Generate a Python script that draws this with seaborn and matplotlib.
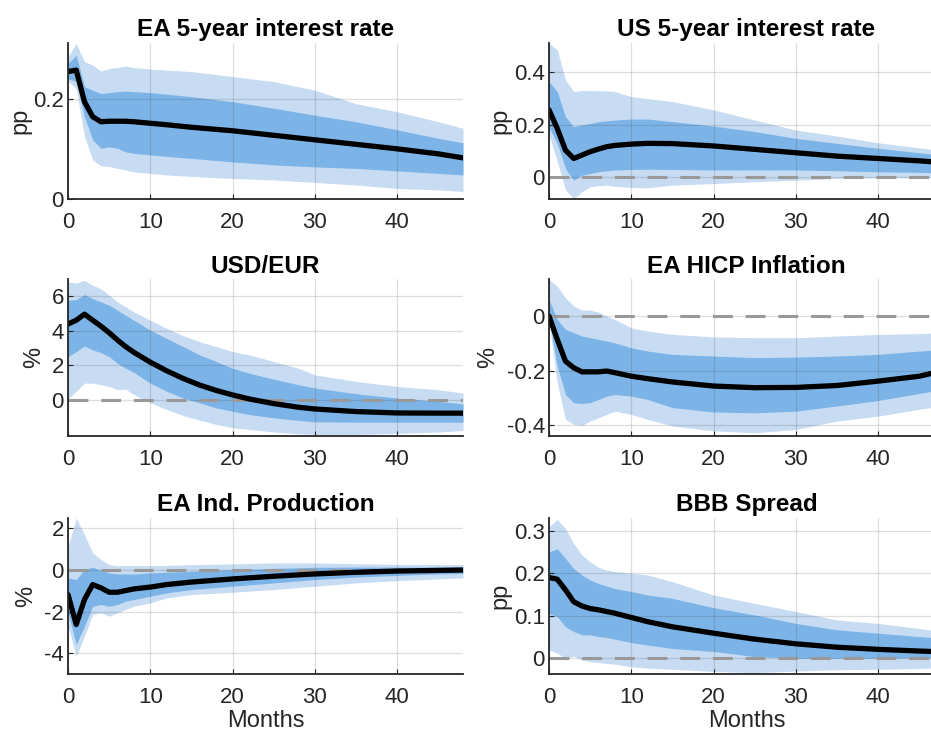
import numpy as np
import pandas as pd
import matplotlib
matplotlib.use("Agg")
import matplotlib.pyplot as plt
import seaborn as sns

# Horizon grids (months after the shock)
months_a = [0, 1, 2, 3, 4, 5, 6, 7, 8, 10, 12, 15, 20, 25, 30, 35, 40, 45, 48]
months_b = [0, 1, 2, 3, 4, 5, 6, 7, 8, 10, 12, 14, 16, 18, 20, 22, 25, 28, 30, 35, 40, 45, 48]

# EA 5-year interest rate (pp)
ea5_med = [0.254, 0.257, 0.194, 0.164, 0.154, 0.155, 0.155, 0.155, 0.154, 0.151, 0.148, 0.143,
           0.136, 0.127, 0.118, 0.109, 0.100, 0.090, 0.082]
ea5_lo68 = [0.240, 0.234, 0.164, 0.118, 0.101, 0.104, 0.101, 0.094, 0.091, 0.088, 0.085, 0.081,
            0.074, 0.068, 0.064, 0.061, 0.056, 0.051, 0.048]
ea5_hi68 = [0.270, 0.287, 0.224, 0.217, 0.210, 0.212, 0.214, 0.215, 0.214, 0.212, 0.209, 0.204,
            0.194, 0.181, 0.167, 0.154, 0.138, 0.121, 0.112]
ea5_lo90 = [0.235, 0.220, 0.125, 0.078, 0.066, 0.065, 0.061, 0.058, 0.054, 0.051, 0.048, 0.045,
            0.041, 0.038, 0.033, 0.028, 0.021, 0.018, 0.015]
ea5_hi90 = [0.284, 0.310, 0.274, 0.267, 0.255, 0.260, 0.262, 0.265, 0.262, 0.259, 0.257, 0.254,
            0.244, 0.234, 0.217, 0.190, 0.174, 0.154, 0.141]

# US 5-year interest rate (pp)
us5_med = [0.256, 0.185, 0.102, 0.070, 0.083, 0.096, 0.106, 0.115, 0.120, 0.125, 0.128, 0.127,
           0.118, 0.105, 0.092, 0.079, 0.070, 0.061, 0.054]
us5_lo68 = [0.190, 0.128, 0.032, -0.013, 0.006, 0.013, 0.019, 0.023, 0.026, 0.028, 0.029, 0.028,
            0.026, 0.026, 0.026, 0.023, 0.019, 0.017, 0.015]
us5_hi68 = [0.364, 0.326, 0.230, 0.192, 0.198, 0.204, 0.211, 0.214, 0.217, 0.221, 0.221, 0.211,
            0.194, 0.173, 0.147, 0.128, 0.109, 0.092, 0.083]
us5_lo90 = [0.160, 0.060, -0.050, -0.083, -0.058, -0.038, -0.034, -0.032, -0.036, -0.041, -0.042,
            -0.032, -0.026, -0.019, -0.013, -0.006, -0.004, -0.003, -0.002]
us5_hi90 = [0.511, 0.486, 0.371, 0.326, 0.330, 0.330, 0.329, 0.329, 0.326, 0.307, 0.299, 0.288,
            0.256, 0.217, 0.179, 0.156, 0.130, 0.111, 0.100]

# USD/EUR (%)
fx_med = [4.38, 4.60, 4.95, 4.60, 4.26, 3.88, 3.46, 3.08, 2.75, 2.18, 1.68, 1.24, 0.86, 0.55,
          0.29, 0.06, -0.21, -0.42, -0.52, -0.67, -0.75, -0.76, -0.76]
fx_lo68 = [2.50, 2.79, 3.11, 2.89, 2.73, 2.50, 2.12, 1.83, 1.59, 0.97, 0.50, 0.11, -0.17, -0.46,
           -0.65, -0.84, -1.03, -1.18, -1.26, -1.28, -1.28, -1.28, -1.28]
fx_hi68 = [5.75, 5.79, 6.08, 5.85, 5.66, 5.47, 5.18, 4.89, 4.60, 4.03, 3.55, 3.08, 2.60, 2.22,
           1.83, 1.55, 1.20, 0.88, 0.69, 0.36, 0.11, -0.08, -0.23]
fx_lo90 = [0.06, 0.50, 0.97, 0.97, 0.88, 0.78, 0.59, 0.62, 0.31, -0.17, -0.55, -0.90, -1.17,
           -1.41, -1.60, -1.70, -1.85, -1.95, -1.99, -1.99, -1.93, -1.85, -1.76]
fx_hi90 = [6.80, 6.75, 6.90, 6.61, 6.42, 6.04, 5.66, 5.37, 5.08, 4.60, 4.13, 3.71, 3.36, 3.08,
           2.79, 2.60, 2.22, 1.83, 1.45, 1.07, 0.78, 0.59, 0.40]

# EA HICP inflation (%)
hicp_med = [0.000, -0.085, -0.165, -0.189, -0.204, -0.204, -0.204, -0.201, -0.207, -0.220, -0.229,
            -0.241, -0.256, -0.262, -0.261, -0.254, -0.238, -0.220, -0.199]
hicp_lo68 = [-0.012, -0.183, -0.287, -0.317, -0.320, -0.317, -0.305, -0.293, -0.287, -0.293,
             -0.305, -0.335, -0.351, -0.354, -0.348, -0.329, -0.309, -0.283, -0.268]
hicp_hi68 = [0.061, -0.012, -0.049, -0.061, -0.073, -0.079, -0.085, -0.091, -0.098, -0.116,
             -0.128, -0.140, -0.146, -0.152, -0.150, -0.146, -0.140, -0.128, -0.122]
hicp_lo90 = [-0.020, -0.244, -0.378, -0.396, -0.400, -0.384, -0.372, -0.360, -0.348, -0.360,
             -0.378, -0.402, -0.420, -0.427, -0.415, -0.384, -0.366, -0.341, -0.329]
hicp_hi90 = [0.134, 0.110, 0.067, 0.037, 0.022, 0.022, 0.015, 0.000, -0.012, -0.043, -0.055,
             -0.067, -0.076, -0.079, -0.079, -0.073, -0.067, -0.064, -0.061]

# EA industrial production (%)
ip_med = [-1.18, -2.62, -1.42, -0.70, -0.86, -1.07, -1.07, -0.99, -0.91, -0.82, -0.70, -0.58,
          -0.43, -0.30, -0.19, -0.11, -0.05, -0.02, 0.00]
ip_lo68 = [-2.06, -3.58, -2.70, -1.74, -1.66, -1.74, -1.66, -1.50, -1.42, -1.26, -1.10, -0.94,
           -0.78, -0.62, -0.46, -0.34, -0.26, -0.19, -0.16]
ip_hi68 = [-0.38, -0.46, 0.02, 0.14, -0.02, -0.14, -0.19, -0.19, -0.19, -0.14, -0.11, -0.06,
           0.02, 0.08, 0.13, 0.14, 0.14, 0.14, 0.14]
ip_lo90 = [-2.70, -4.14, -3.18, -2.14, -2.06, -2.22, -2.06, -1.90, -1.74, -1.58, -1.34, -1.18,
           -1.07, -0.94, -0.78, -0.62, -0.51, -0.43, -0.38]
ip_hi90 = [1.14, 2.50, 1.70, 0.82, 0.50, 0.26, 0.21, 0.21, 0.21, 0.21, 0.22, 0.26, 0.29, 0.34,
           0.34, 0.30, 0.27, 0.26, 0.26]

# BBB spread (pp)
bbb_med = [0.190, 0.186, 0.161, 0.133, 0.123, 0.117, 0.114, 0.110, 0.106, 0.096, 0.086, 0.074,
           0.059, 0.045, 0.034, 0.026, 0.021, 0.017, 0.015]
bbb_lo68 = [0.106, 0.098, 0.074, 0.063, 0.055, 0.055, 0.051, 0.049, 0.045, 0.037, 0.031, 0.023,
            0.016, 0.004, 0.000, 0.000, 0.000, 0.001, 0.002]
bbb_hi68 = [0.250, 0.258, 0.235, 0.211, 0.196, 0.184, 0.176, 0.170, 0.164, 0.157, 0.149, 0.141,
            0.119, 0.102, 0.082, 0.067, 0.059, 0.051, 0.047]
bbb_lo90 = [0.020, 0.012, 0.000, 0.005, -0.004, -0.008, -0.010, -0.012, -0.014, -0.020, -0.023,
            -0.026, -0.031, -0.034, -0.030, -0.027, -0.026, -0.024, -0.022]
bbb_hi90 = [0.309, 0.327, 0.305, 0.270, 0.243, 0.227, 0.214, 0.208, 0.204, 0.200, 0.196, 0.180,
            0.149, 0.129, 0.110, 0.090, 0.082, 0.070, 0.063]

titles = ["EA 5-year interest rate", "US 5-year interest rate", "USD/EUR",
          "EA HICP Inflation", "EA Ind. Production", "BBB Spread"]
units = ["pp", "pp", "%", "%", "%", "pp"]
xticks = [0, 10, 20, 30, 40]

panels = [
    (months_a, ea5_med, ea5_lo68, ea5_hi68, ea5_lo90, ea5_hi90),
    (months_a, us5_med, us5_lo68, us5_hi68, us5_lo90, us5_hi90),
    (months_b, fx_med, fx_lo68, fx_hi68, fx_lo90, fx_hi90),
    (months_a, hicp_med, hicp_lo68, hicp_hi68, hicp_lo90, hicp_hi90),
    (months_a, ip_med, ip_lo68, ip_hi68, ip_lo90, ip_hi90),
    (months_a, bbb_med, bbb_lo68, bbb_hi68, bbb_lo90, bbb_hi90),
]
ylims = [(0, 0.311), (-0.085, 0.512), (-2.05, 6.95), (-0.437, 0.134), (-5.0, 2.5), (-0.037, 0.33)]
yticks = [[0, 0.2], [0, 0.2, 0.4], [0, 2, 4, 6], [-0.4, -0.2, 0], [-4, -2, 0, 2], [0, 0.1, 0.2, 0.3]]
ytick_labels = [["0", "0.2"], ["0", "0.2", "0.4"], ["0", "2", "4", "6"],
                ["-0.4", "-0.2", "0"], ["-4", "-2", "0", "2"], ["0", "0.1", "0.2", "0.3"]]
show_zero = [False, True, True, True, True, True]
ylabel_x = [-0.120, -0.124, -0.086, -0.154, -0.106, -0.124]

sns.set_theme(style="ticks")
plt.rcParams["font.family"] = ["Liberation Sans", "DejaVu Sans"]

W, H = 931, 734
fig = plt.figure(figsize=(W / 100, H / 100), dpi=100)

col_x = [68, 549]
row_top = [43, 279.5, 518]
ax_w, ax_h = 395, 156

light = "#c7dcf2"
dark = "#7db4e7"
axis_col = "#262626"

for i, (months, med, lo68, hi68, lo90, hi90) in enumerate(panels):
    r, c = divmod(i, 2)
    x0 = col_x[c]
    y0 = row_top[r] + ax_h
    ax = fig.add_axes([x0 / W, 1 - y0 / H, ax_w / W, ax_h / H])

    ax.fill_between(months, lo90, hi90, color=light, lw=0, zorder=1)
    ax.fill_between(months, lo68, hi68, color=dark, lw=0, zorder=2)
    if show_zero[i]:
        ax.axhline(0, color="#999999", lw=2.2, dashes=(6.5, 4.2), zorder=3)
    df = pd.DataFrame({"month": months, "response": med})
    sns.lineplot(data=df, x="month", y="response", ax=ax, color="black", lw=3.8, zorder=4)

    ax.set_xlim(0, 48)
    ax.set_ylim(*ylims[i])
    ax.set_xticks(xticks)
    ax.set_xticklabels([str(t) for t in xticks])
    ax.set_yticks(yticks[i])
    ax.set_yticklabels(ytick_labels[i])
    ax.grid(True, color=axis_col, alpha=0.15, lw=0.9)
    ax.set_axisbelow(False)
    for g in ax.get_xgridlines() + ax.get_ygridlines():
        g.set_zorder(2.5)

    sns.despine(ax=ax)
    for s in ("left", "bottom"):
        ax.spines[s].set_color(axis_col)
        ax.spines[s].set_linewidth(1.3)
        ax.spines[s].set_zorder(5)
    ax.tick_params(axis="both", direction="in", length=3.5, width=0.8, color=axis_col,
                   labelsize=16, labelcolor=axis_col)
    ax.tick_params(axis="x", pad=9.5)
    ax.tick_params(axis="y", pad=3)

    ax.set_title(titles[i], fontsize=17.5, fontweight="bold", color="black", pad=5)
    ax.set_ylabel(units[i], fontsize=17, color=axis_col, va="center", rotation=90)
    ax.yaxis.set_label_coords(ylabel_x[i], 0.5)
    if r == 2:
        ax.set_xlabel("Months", fontsize=17, color=axis_col, va="center")
        ax.xaxis.set_label_coords(0.5, -47 / ax_h)
    else:
        ax.set_xlabel("")

fig.savefig("out.png", dpi=100)
